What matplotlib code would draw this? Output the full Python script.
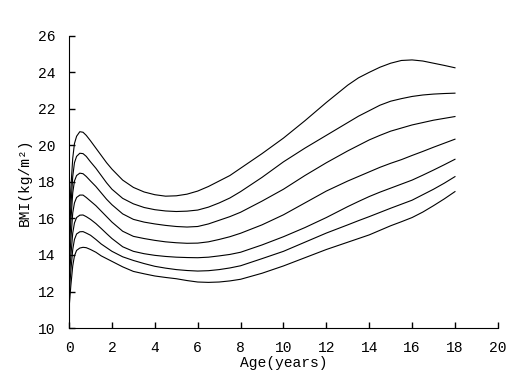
import matplotlib
matplotlib.use("Agg")
import matplotlib.pyplot as plt

# ages (years) and BMI percentile curves, top to bottom
ages = [0, 0.08, 0.17, 0.25, 0.35, 0.5, 0.65, 0.8, 1, 1.25, 1.5, 1.75, 2, 2.5, 3, 3.5, 4, 4.5,
        5, 5.5, 6, 6.5, 7, 7.5, 8, 9, 10, 11, 12, 13, 13.5, 14, 14.5, 15, 15.5, 16, 16.5, 17, 17.5, 18]

c1 = [15.6, 17.6, 19.3, 20.1, 20.5, 20.75, 20.72, 20.55, 20.25, 19.85, 19.45, 19.05, 18.7, 18.1,
      17.7, 17.45, 17.3, 17.22, 17.24, 17.33, 17.5, 17.75, 18.05, 18.35, 18.75, 19.55, 20.4, 21.35,
      22.35, 23.3, 23.7, 24.0, 24.28, 24.5, 24.65, 24.68, 24.62, 24.5, 24.38, 24.25]
c2 = [14.8, 16.6, 18.3, 19.05, 19.4, 19.57, 19.55, 19.4, 19.1, 18.75, 18.35, 17.95, 17.6, 17.1,
      16.8, 16.6, 16.48, 16.41, 16.38, 16.4, 16.46, 16.62, 16.85, 17.12, 17.47, 18.25, 19.1, 19.85,
      20.55, 21.25, 21.6, 21.9, 22.2, 22.42, 22.56, 22.68, 22.76, 22.81, 22.84, 22.86]
c3 = [14.0, 15.8, 17.4, 18.05, 18.35, 18.48, 18.45, 18.3, 18.05, 17.75, 17.4, 17.05, 16.75, 16.25,
      15.95, 15.8, 15.7, 15.62, 15.56, 15.53, 15.56, 15.7, 15.9, 16.1, 16.34, 16.95, 17.6, 18.35,
      19.05, 19.7, 20.0, 20.3, 20.55, 20.78, 20.95, 21.12, 21.25, 21.38, 21.48, 21.58]
c4 = [13.2, 14.8, 16.3, 16.85, 17.15, 17.28, 17.28, 17.15, 16.95, 16.7, 16.4, 16.1, 15.8, 15.3,
      15.02, 14.9, 14.8, 14.72, 14.67, 14.64, 14.65, 14.72, 14.85, 15.0, 15.19, 15.65, 16.2, 16.85,
      17.5, 18.05, 18.3, 18.55, 18.8, 19.02, 19.22, 19.45, 19.67, 19.9, 20.12, 20.34]
c5 = [12.5, 13.9, 15.2, 15.75, 16.05, 16.18, 16.19, 16.1, 15.95, 15.72, 15.45, 15.17, 14.9, 14.45,
      14.2, 14.07, 13.98, 13.92, 13.88, 13.86, 13.85, 13.88, 13.95, 14.03, 14.15, 14.55, 15.0, 15.5,
      16.05, 16.65, 16.93, 17.2, 17.44, 17.66, 17.88, 18.1, 18.37, 18.65, 18.94, 19.24]
c6 = [11.8, 13.1, 14.3, 14.85, 15.15, 15.27, 15.28, 15.2, 15.08, 14.85, 14.6, 14.4, 14.2, 13.9,
      13.7, 13.53, 13.38, 13.28, 13.2, 13.15, 13.12, 13.14, 13.2, 13.29, 13.41, 13.8, 14.2, 14.7,
      15.2, 15.65, 15.88, 16.1, 16.33, 16.56, 16.78, 17.0, 17.3, 17.6, 17.93, 18.29]
c7 = [11.1, 12.3, 13.4, 13.95, 14.25, 14.38, 14.42, 14.4, 14.3, 14.15, 13.95, 13.8, 13.65, 13.35,
      13.1, 12.97, 12.85, 12.77, 12.7, 12.6, 12.52, 12.5, 12.52, 12.58, 12.67, 13.0, 13.4, 13.85,
      14.3, 14.7, 14.9, 15.1, 15.35, 15.6, 15.82, 16.05, 16.35, 16.7, 17.07, 17.47]
curves = [c1, c2, c3, c4, c5, c6, c7]

plt.rcParams['font.family'] = ['Liberation Mono', 'DejaVu Sans']

fig = plt.figure(figsize=(5.08, 3.81), dpi=100)
ax = fig.add_axes([0.136, 0.139, 0.844, 0.767])

for c in curves:
    ax.plot(ages, c, color='black', linewidth=0.8)

ax.set_xlim(0, 20)
ax.set_ylim(10, 26)
ax.set_xticks(range(0, 21, 2))
ax.set_yticks(range(10, 27, 2))
ax.spines['top'].set_visible(False)
ax.spines['right'].set_visible(False)
ax.tick_params(direction='in', length=4, width=1, labelsize=10.5)
ax.tick_params(axis='y', pad=10)
ax.tick_params(axis='x', pad=9)

ax.set_xlabel('Age(years)', fontsize=10.5, labelpad=1)
ax.set_ylabel('BMI(kg/m²)', fontsize=10.5, labelpad=4)

fig.savefig('out.png', dpi=100)
